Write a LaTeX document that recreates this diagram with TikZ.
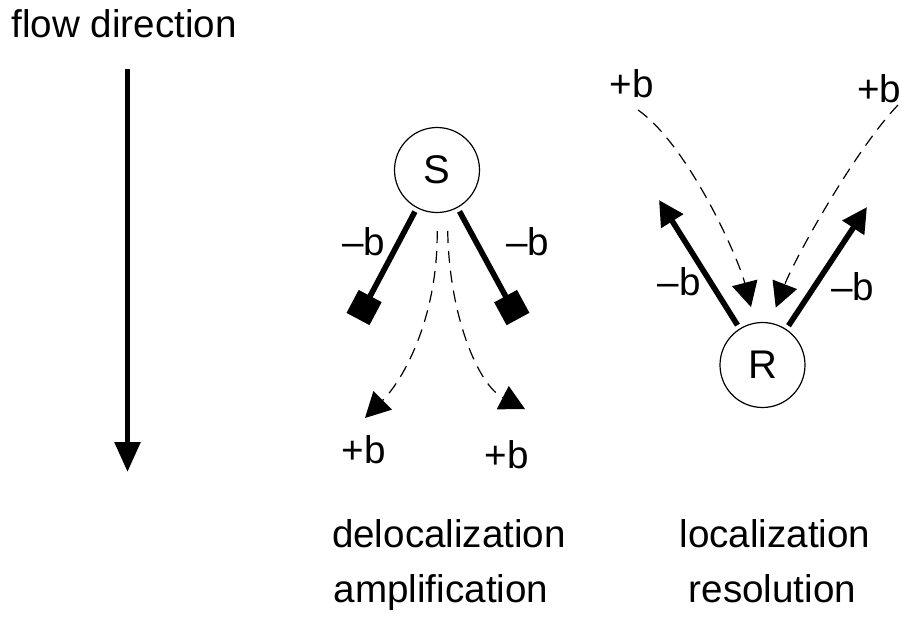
\documentclass[tikz,border=0pt]{standalone}
\usepackage{fontspec}
\setmainfont{Liberation Sans}
\usetikzlibrary{arrows.meta, positioning, calc}
\tikzset{
	x=0.5pt, y=-0.5pt, % one unit is half a point, y runs downwards
	lbl/.style={font=\fontsize{19.3}{23}\selectfont, inner sep=0pt, anchor=base}, % all the plain text
	centre/.style={circle, draw, line width=0.6pt, minimum size=42.5pt, inner sep=0pt, font=\fontsize{20}{24}\selectfont}, % S and R
	bond/.style={line width=2.8pt, shorten <=2pt}, % the bold -b lines
	flux/.style={line width=0.6pt, dash pattern=on 6pt off 4pt, -{Triangle[length=12.5pt,width=13pt]}}, % the dashed +b curves
	flow/.style={line width=2.8pt, -{Triangle[length=15pt,width=12.5pt]}}, % the big arrow on the left
}
\begin{document}
\begin{tikzpicture}
	\useasboundingbox (0,0) rectangle (905,617);
	
	% flow direction
	\node[lbl, anchor=base west] (flowtxt) at (11,37) {flow direction};
	\coordinate (ftop) at (127.5,69);
	\coordinate (fbot) at (127.5,472);
	\draw[flow] (ftop) -- (fbot);
	
	% delocalization
	\node[centre] (S) at (437,170) {S};
	\coordinate (sqL) at (358,319);
	\coordinate (sqR) at (518,319);
	\coordinate (dL) at (365,418);
	\coordinate (dR) at (525,409);
	\draw (S) edge[bond, -{Square[length=13pt,width=13pt]}] (sqL)
	(S) edge[bond, -{Square[length=13pt,width=13pt]}] (sqR);
	\draw[flux, shorten <=9pt] (S.south) .. controls (438,315) and (405,378) .. (dL);
	\draw[flux, shorten <=9.5pt] (S.284) .. controls (449,315) and (478,385) .. (dR);
	\node[lbl] (mSL) at (364,255) {–b};
	\node[lbl] (mSR) at (527.5,255) {–b};
	\node[lbl] (pSL) at (364,463) {+b};
	\node[lbl] (pSR) at (506.5,468) {+b};
	\node[lbl] (deloc) at (449,547) {delocalization};
	\node[lbl] (ampl) at (441,602) {amplification};
	
	% localization
	\node[centre] (R) at (762.5,365) {R};
	\coordinate (tL) at (659,200);
	\coordinate (tR) at (867,207);
	\coordinate (uL) at (638,110);
	\coordinate (uR) at (898,105);
	\draw (R) edge[bond, -{Triangle[length=12.5pt,width=12.5pt]}] (tL)
	(R) edge[bond, -{Triangle[length=12.5pt,width=12.5pt]}] (tR);
	\draw[flux, shorten >=8pt] (uL) .. controls (688,145) and (738,257) .. (R.100);
	\draw[flux, shorten >=8pt] (uR) .. controls (855,150) and (795,258) .. (R.80);
	\node[lbl] (pRL) at (631.5,97) {+b};
	\node[lbl] (pRR) at (879,102) {+b};
	\node[lbl] (mRL) at (679,295) {–b};
	\node[lbl] (mRR) at (852.5,300) {–b};
	\node[lbl] (local) at (775,547) {localization};
	\node[lbl] (resol) at (772.5,602) {resolution};
	
\end{tikzpicture}
\end{document}
